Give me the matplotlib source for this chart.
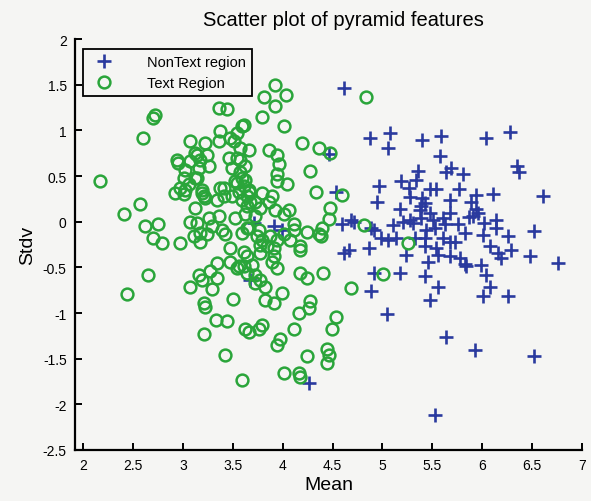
import matplotlib.pyplot as plt

plt.rcParams['font.family'] = ['Liberation Sans', 'DejaVu Sans']

# NonText region (blue +)
nontext_mean = [4.87, 5.08, 5.06, 5.40, 5.59, 6.04, 6.28, 5.58, 6.35, 6.37, 5.36, 5.64, 5.69, 5.81,
                5.34, 5.19, 4.96, 5.27, 5.48, 5.54, 5.77, 6.11, 5.94, 5.28, 5.40, 4.94, 5.68, 5.89,
                5.43, 5.18, 5.38, 5.94, 5.96, 5.91, 5.48, 5.68, 5.87, 4.68, 4.71, 4.59, 5.21, 5.31,
                5.39, 5.51, 5.61, 5.63, 5.76, 6.02, 6.14, 6.14, 5.11, 4.88, 4.91, 5.44, 5.53, 5.83,
                4.98, 5.06, 5.14, 5.33, 5.43, 5.61, 5.68, 5.73, 6.01, 6.26, 5.24, 4.61, 4.66, 4.86,
                5.43, 5.54, 5.56, 5.68, 5.78, 5.83, 6.08, 6.16, 6.19, 6.29, 5.46, 5.84, 5.99, 6.04,
                4.91, 5.18, 5.43, 5.56, 6.08, 6.01, 6.26, 4.88, 5.48, 5.05, 6.48, 4.53, 5.39, 5.28,
                6.61, 6.52, 6.76, 5.64, 5.93, 6.52, 4.26, 5.53, 4.61, 4.46, 3.71, 3.91, 3.99, 3.67]
nontext_stdv = [0.92, 0.97, 0.81, 0.89, 0.94, 0.92, 0.98, 0.72, 0.61, 0.54, 0.56, 0.54, 0.59, 0.52,
                0.46, 0.45, 0.39, 0.37, 0.36, 0.36, 0.36, 0.30, 0.29, 0.27, 0.26, 0.22, 0.24, 0.22,
                0.20, 0.14, 0.13, 0.14, 0.10, 0.06, 0.10, 0.10, 0.05, 0.02, 0.00, -0.03, 0.00, -0.01,
                0.04, 0.02, 0.04, -0.03, -0.03, -0.01, 0.02, -0.07, -0.04, -0.07, -0.09, -0.09, -0.07, -0.12,
                -0.18, -0.20, -0.18, -0.18, -0.18, -0.18, -0.22, -0.22, -0.15, -0.16, -0.36, -0.34, -0.31, -0.29,
                -0.27, -0.29, -0.36, -0.38, -0.40, -0.46, -0.27, -0.34, -0.40, -0.31, -0.44, -0.48, -0.47, -0.58,
                -0.56, -0.56, -0.60, -0.71, -0.71, -0.81, -0.81, -0.76, -0.86, -1.01, -0.38, 0.32, 0.17, 0.02,
                0.28, -0.10, -0.45, -1.26, -1.41, -1.47, -1.77, -2.12, 1.46, 0.74, -0.02, -0.05, -0.09, -0.64]

# Text Region (green o)
text_mean = [3.36, 3.44, 3.81, 3.92, 4.03, 3.92, 3.79, 4.01, 3.59, 2.70, 2.72, 3.37, 3.07, 3.22,
             3.36, 3.47, 3.51, 3.54, 3.61, 3.66, 3.57, 3.86, 3.94, 3.96, 2.60, 2.17, 2.41,
             3.12, 3.24, 3.17, 3.07, 2.94, 2.95, 3.02, 3.16, 3.26, 3.46, 3.54, 3.49, 3.62, 3.94,
             3.01, 3.12, 3.06, 2.97, 2.92, 3.01, 3.19, 3.21, 3.37, 3.41, 3.49, 3.54, 3.62, 3.66,
             3.59, 3.67, 3.79, 3.89, 3.92, 2.57, 3.12, 3.07, 3.26, 3.36, 3.29, 3.39, 3.42, 3.52,
             3.59, 3.66, 3.76, 3.79, 3.87, 3.94, 2.62, 2.75, 2.70, 2.79, 2.97, 3.11, 3.17, 3.24,
             3.14, 3.57, 3.14, 3.17, 3.47, 3.64, 3.02, 3.14, 3.19, 3.22, 3.34, 3.41, 3.52, 3.59,
             3.56, 3.64, 3.57, 3.61, 3.66, 3.64, 3.72, 3.77, 3.62, 3.72, 3.74, 3.77, 3.84, 3.91,
             4.01, 4.11, 4.07, 3.91, 3.86,
             4.19, 4.36, 4.47, 4.27, 3.94, 4.04, 4.33, 4.59, 4.47, 4.46, 4.06, 4.01, 4.11, 4.24,
             4.36, 4.39, 4.38, 4.81, 4.17, 5.26, 4.83,
             3.69, 3.64, 3.72, 3.77, 3.82, 3.89, 3.94, 3.99, 3.82, 3.91, 3.61, 3.77, 3.64, 3.61,
             3.47, 3.56, 3.72,
             2.65, 2.44, 3.07, 3.16, 3.19, 3.27, 3.34, 3.34, 3.29, 3.21, 3.22, 3.54, 3.50, 3.33,
             3.44, 3.21, 3.42, 3.59, 3.62, 3.66, 3.76, 3.79,
             4.17, 4.24, 4.40, 4.17, 4.68, 5.01, 4.27, 4.26, 4.16, 4.53, 4.49, 4.11, 3.97, 3.94,
             4.44, 4.46, 4.44, 4.24, 4.01, 4.16, 4.17]
text_stdv = [1.25, 1.23, 1.37, 1.50, 1.39, 1.27, 1.15, 1.05, 1.05, 1.14, 1.17, 0.99, 0.88, 0.86,
             0.88, 0.92, 0.88, 0.97, 1.06, 0.79, 0.81, 0.79, 0.73, 0.63, 0.92, 0.44, 0.08,
             0.75, 0.73, 0.68, 0.66, 0.68, 0.64, 0.57, 0.59, 0.61, 0.70, 0.70, 0.59, 0.61, 0.52,
             0.48, 0.48, 0.41, 0.37, 0.31, 0.30, 0.35, 0.28, 0.37, 0.28, 0.28, 0.42, 0.46, 0.35,
             0.24, 0.22, 0.31, 0.28, 0.13, 0.19, 0.15, 0.00, 0.04, 0.06, -0.05, -0.09, -0.14, 0.04,
             -0.12, -0.07, -0.09, -0.20, -0.16, -0.20, -0.05, -0.03, -0.18, -0.23, -0.23, -0.16, -0.22, -0.14,
             0.73, 0.68, -0.01, -0.12, -0.29, -0.07, 0.35, 0.48, 0.31, 0.26, 0.24, 0.37, 0.44, 0.48,
             0.33, 0.28, 0.54, 0.39, 0.33, 0.17, 0.22, 0.15, 0.08, 0.06, -0.16, -0.25, -0.27, -0.29,
             -0.14, -0.09, -0.20, -0.38, 0.22,
             0.86, 0.81, 0.75, 0.55, 0.44, 0.41, 0.33, 0.29, 0.15, 0.03, 0.13, 0.08, -0.03, -0.11,
             -0.14, -0.07, -0.16, -0.04, -0.27, -0.23, 1.37,
             -0.47, -0.56, -0.58, -0.64, -0.71, -0.44, -0.51, -0.78, -0.86, -0.89, -0.33, -0.34, -0.38, -0.49,
             -0.44, -0.49, -0.67,
             -0.58, -0.79, -0.71, -0.58, -0.64, -0.54, -0.45, -0.62, -0.74, -0.89, -0.93, -0.51, -0.85, -1.08,
             -1.09, -1.23, -1.46, -1.73, -1.18, -1.21, -1.17, -1.13,
             -0.56, -0.62, -0.56, -0.31, -0.73, -0.57, -0.87, -0.95, -1.00, -1.04, -1.17, -1.17, -1.29, -1.35,
             -1.39, -1.46, -1.55, -1.47, -1.66, -1.66, -1.70]

x_ticks = [2, 2.5, 3, 3.5, 4, 4.5, 5, 5.5, 6, 6.5, 7]
y_ticks = [-2.5, -2, -1.5, -1, -0.5, 0, 0.5, 1, 1.5, 2]

bg = '#f5f5f3'
fig = plt.figure(figsize=(5.91, 5.02), dpi=100, facecolor=bg)
ax = fig.add_axes([0.127, 0.1016, 0.858, 0.8187], facecolor=bg)

ax.plot(nontext_mean, nontext_stdv, linestyle='none', marker='+', color='#2a3a9e',
        markersize=10, markeredgewidth=1.9, label='NonText region')
ax.plot(text_mean, text_stdv, linestyle='none', marker='o', color='#2aa53a',
        markerfacecolor='none', markersize=8.5, markeredgewidth=1.8, label='Text Region')

ax.set_xlim(1.92, 7.0)
ax.set_ylim(-2.5, 2.0)
ax.set_xticks(x_ticks)
ax.set_xticklabels([('%g' % t) for t in x_ticks])
ax.set_yticks(y_ticks)
ax.set_yticklabels([('%g' % t) for t in y_ticks])

for side in ['top', 'right']:
   ax.spines[side].set_visible(False)
for side in ['left', 'bottom']:
   ax.spines[side].set_linewidth(1.6)
ax.tick_params(direction='in', length=5, width=1.4, labelsize=10, pad=6)

ax.set_title('Scatter plot of pyramid features', fontsize=14.5, pad=10, x=0.53)
ax.set_xlabel('Mean', fontsize=14, labelpad=3)
ax.set_ylabel('Stdv', fontsize=14, labelpad=5)

leg = ax.legend(loc='upper left', bbox_to_anchor=(0.016, 0.976), borderaxespad=0,
                fontsize=10.5, frameon=True, fancybox=False, handlelength=2.0,
                handletextpad=2.0, borderpad=0.4, labelspacing=0.5)
leg.get_frame().set_edgecolor('black')
leg.get_frame().set_linewidth(1.3)
leg.get_frame().set_facecolor(bg)
leg.get_frame().set_alpha(1)

fig.savefig('out.png', dpi=100, facecolor=bg)
